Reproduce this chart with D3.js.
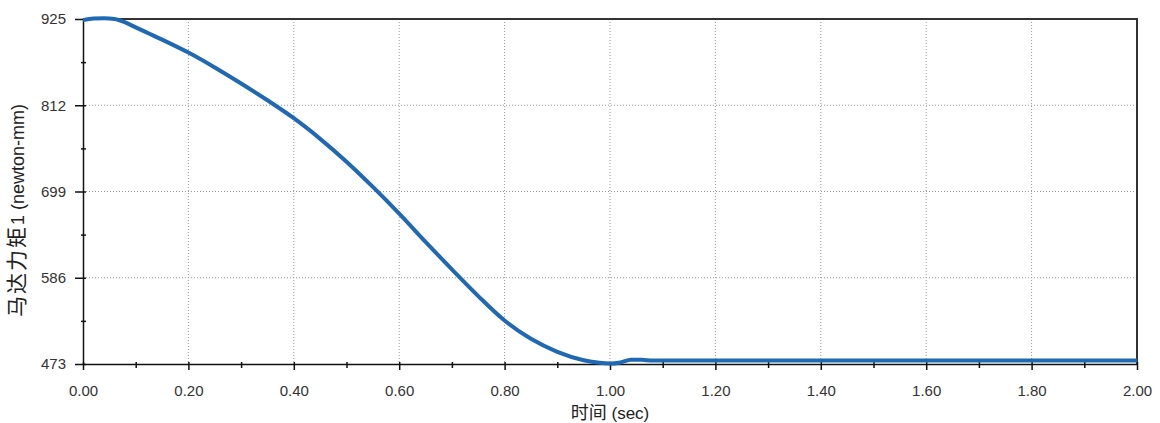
<!DOCTYPE html>
<html>
<head>
<meta charset="utf-8">
<script src="https://cdn.jsdelivr.net/npm/d3@7/dist/d3.min.js"></script>
<style>
  html, body { margin: 0; padding: 0; background: #fff; }
  svg { display: block; font-family: "Liberation Sans", Arial, "Noto Sans CJK SC", sans-serif; }
</style>
</head>
<body>
<div id="chart"></div>
<script>
// time (sec) and motor torque (newton-mm)
const times   = [0, 0.02, 0.04, 0.06, 0.08, 0.10, 0.125, 0.15, 0.20, 0.25, 0.30, 0.35, 0.40, 0.45, 0.50,
                 0.55, 0.60, 0.65, 0.70, 0.75, 0.80, 0.85, 0.90, 0.95, 0.98, 1.00, 1.02, 1.04,
                 1.06, 1.08, 1.20, 1.40, 1.60, 1.80, 2.00];
const torque  = [923.5, 925.5, 926, 925, 920.5, 914, 906, 898, 881, 861.5, 840.5, 818.5, 795, 768, 738,
                 705, 670, 633, 597, 562, 530, 506, 489, 478, 474.5, 473.5, 475, 478.5,
                 478.5, 477.5, 477.5, 477.5, 477.5, 477.5, 477.5];
const xMajor  = [0, 0.2, 0.4, 0.6, 0.8, 1.0, 1.2, 1.4, 1.6, 1.8, 2.0];
const xMinor  = [0.1, 0.3, 0.5, 0.7, 0.9, 1.1, 1.3, 1.5, 1.7, 1.9];
const yMajor  = [473, 586, 699, 812, 925];
const yMinor  = [529.5, 642.5, 755.5, 868.5];
const xTitle  = ['时间', ' (sec)'];
const yTitle  = ['马达力矩', '1 (newton-mm)'];

const width = 1160, height = 423;
const margin = { top: 19, right: 23, bottom: 59, left: 83 };

const svg = d3.select('#chart').append('svg')
              .attr('width', width)
              .attr('height', height);

const x = d3.scaleLinear().domain([0, 2]).range([margin.left, width - margin.right]);
const y = d3.scaleLinear().domain([473, 925]).range([height - margin.bottom, margin.top]);

// dotted grid
svg.append('g').selectAll('line')
   .data(xMajor.slice(1, -1))
   .join('line')
   .attr('x1', d => x(d)).attr('x2', d => x(d))
   .attr('y1', y(925)).attr('y2', y(473))
   .attr('stroke', '#9a9a9a')
   .attr('stroke-dasharray', '1,2');

svg.append('g').selectAll('line')
   .data(yMajor.slice(1, -1))
   .join('line')
   .attr('x1', x(0)).attr('x2', x(2))
   .attr('y1', d => y(d)).attr('y2', d => y(d))
   .attr('stroke', '#9a9a9a')
   .attr('stroke-dasharray', '1,2');

// frame top / right
svg.append('path')
   .attr('d', `M${x(0)},${y(925)}H${x(2)}V${y(473)}`)
   .attr('fill', 'none')
   .attr('stroke', '#333')
   .attr('stroke-width', 2);

// x axis
const gx = svg.append('g')
              .attr('transform', `translate(0,${y(473)})`)
              .call(d3.axisBottom(x).tickValues(xMajor).tickSize(6).tickSizeOuter(0)
                      .tickPadding(15).tickFormat(d3.format('.2f')));
gx.selectAll('.tick line').attr('y1', -2).attr('stroke', '#111').attr('stroke-width', 1.5);

const gxm = svg.append('g')
               .attr('transform', `translate(0,${y(473)})`)
               .call(d3.axisBottom(x).tickValues(xMinor).tickSize(4).tickFormat(''));
gxm.select('.domain').remove();
gxm.selectAll('.tick line').attr('y1', -2).attr('stroke', '#111').attr('stroke-width', 1.5);

// y axis
const gy = svg.append('g')
              .attr('transform', `translate(${x(0)},0)`)
              .call(d3.axisLeft(y).tickValues(yMajor).tickSize(8).tickSizeOuter(0)
                      .tickPadding(9).tickFormat(d3.format('d')));
gy.selectAll('.tick line').attr('x1', 3).attr('stroke', '#111').attr('stroke-width', 1.5);

const gym = svg.append('g')
               .attr('transform', `translate(${x(0)},0)`)
               .call(d3.axisLeft(y).tickValues(yMinor).tickSize(2).tickFormat(''));
gym.select('.domain').remove();
gym.selectAll('.tick line').attr('x1', 3).attr('stroke', '#111').attr('stroke-width', 1.5);

[gx, gy].forEach(g => {
  g.select('.domain').attr('stroke', '#111').attr('stroke-width', 1.5);
  g.selectAll('.tick text')
   .attr('font-size', 15)
   .attr('font-family', '"Liberation Sans", Arial, sans-serif')
   .attr('fill', '#333');
});

// the torque line
const line = d3.line()
               .x((d, i) => x(times[i]))
               .y(d => y(d))
               .curve(d3.curveMonotoneX);

svg.append('path')
   .datum(torque)
   .attr('d', line)
   .attr('fill', 'none')
   .attr('stroke', '#1f68b4')
   .attr('stroke-width', 4)
   .attr('stroke-linejoin', 'round');

// axis titles
const xt = svg.append('text')
              .attr('x', (x(0) + x(2)) / 2)
              .attr('y', 419)
              .attr('text-anchor', 'middle')
              .attr('fill', '#222');
xt.append('tspan').attr('font-size', 18).attr('font-family', '"Noto Sans CJK SC", sans-serif').text(xTitle[0]);
xt.append('tspan').attr('font-size', 17).text(xTitle[1]);

const yt = svg.append('text')
              .attr('transform', 'translate(24,317) rotate(-90)')
              .attr('text-anchor', 'start')
              .attr('fill', '#222');
yt.append('tspan').attr('font-size', 21).attr('letter-spacing', 2)
  .attr('font-family', '"Noto Sans CJK SC", sans-serif').text(yTitle[0]);
yt.append('tspan').attr('font-size', 18).text(yTitle[1]);
</script>
</body>
</html>
